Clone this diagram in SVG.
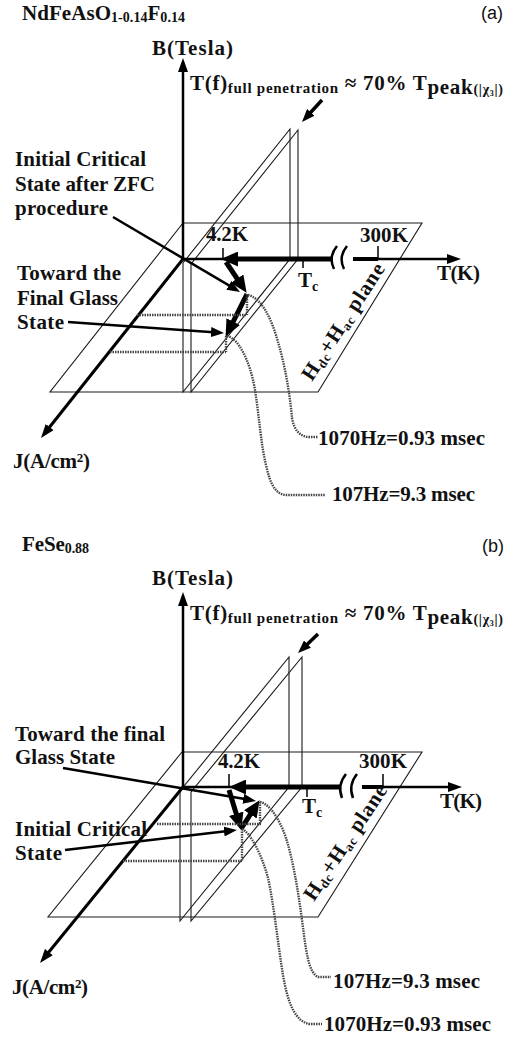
<svg xmlns="http://www.w3.org/2000/svg" width="507" height="1040" viewBox="0 0 507 1040">
<style>
text{font-family:"Liberation Serif","Times New Roman",serif;font-weight:bold;fill:#111;font-size:21px}
.sans{font-family:"Liberation Sans",Arial,sans-serif;font-weight:normal;font-size:18px}
.thin{fill:none;stroke:#1a1a1a;stroke-width:1.1}
.ax{fill:none;stroke:#000;stroke-width:2.5}
.jx{fill:none;stroke:#000;stroke-width:3}
.tk{fill:none;stroke:#000;stroke-width:1.5}
.fat{fill:none;stroke:#000;stroke-width:5}
.ptr{fill:none;stroke:#000;stroke-width:2.5}
.dot{fill:none;stroke:#444;stroke-width:2.4;stroke-dasharray:1.5 1}
.brk{fill:none;stroke:#000;stroke-width:2.5}
</style>
<defs>
<marker id="axh" viewBox="0 0 14 10" refX="8" refY="5" markerWidth="14" markerHeight="10" markerUnits="userSpaceOnUse" orient="auto"><path d="M0,0 L14,5 L0,10 z" fill="#000"/></marker>
<marker id="big" viewBox="0 0 17 15" refX="8" refY="7.5" markerWidth="17" markerHeight="15" markerUnits="userSpaceOnUse" orient="auto"><path d="M0,0 L17,7.5 L0,15 z" fill="#000"/></marker>
<marker id="sm" viewBox="0 0 13 10" refX="6" refY="5" markerWidth="13" markerHeight="10" markerUnits="userSpaceOnUse" orient="auto"><path d="M0,0 L13,5 L0,10 z" fill="#000"/></marker>
</defs>

<!-- ================= PANEL (a) ================= -->
<g id="panel-a-planes">
<polygon class="thin" points="183,223 422,223 318,392 50,392"/>
<polygon class="thin" points="290,129 290,259 183,392 183,263"/>
<polygon class="thin" points="298,130 298,259 191,392 191,264"/>
</g>
<g id="panel-a-connectors">
<line class="ax" x1="183" y1="259" x2="183" y2="64" marker-end="url(#axh)"/>
<line class="ax" x1="183" y1="259" x2="333" y2="259"/>
<line class="ax" x1="353" y1="259" x2="455" y2="259" marker-end="url(#axh)"/>
<line class="fat" x1="353" y1="259" x2="378" y2="259" style="stroke-width:4"/>
<path class="brk" d="M337,246 Q328,257 334,269"/>
<path class="brk" d="M347,246 Q338,257 344,269"/>
<line class="tk" x1="223" y1="248" x2="223" y2="259"/>
<line class="tk" x1="378" y1="246" x2="378" y2="259"/>
<line class="tk" x1="303" y1="259" x2="303" y2="268"/>
<line class="jx" x1="183" y1="259" x2="44.7" y2="433.3" marker-end="url(#axh)"/>
<line class="fat" x1="333" y1="259" x2="230" y2="259" marker-end="url(#big)"/>
<line class="fat" x1="226" y1="262" x2="241.6" y2="285.3" marker-end="url(#big)"/>
<line class="fat" x1="247" y1="294" x2="229.6" y2="328.8" marker-end="url(#big)"/>
<line class="ptr" x1="113" y1="217" x2="234" y2="288.4" marker-end="url(#sm)"/>
<line class="ptr" x1="68" y1="322" x2="217" y2="332.5" marker-end="url(#sm)"/>
<line class="ptr" x1="322" y1="100" x2="306.7" y2="116.8" marker-end="url(#sm)" style="stroke-width:3.5"/>
<line class="dot" x1="137" y1="315" x2="247" y2="315"/>
<line class="dot" x1="110" y1="352" x2="226" y2="352"/>
<line class="dot" x1="247" y1="294" x2="247" y2="315"/>
<line class="dot" x1="226" y1="336" x2="226" y2="352"/>
<path class="dot" d="M248,295 C262,298 272,320 278,342 C285,365 290,395 292,418 C294,430 300,437 310,437 L318,437"/>
<path class="dot" d="M227,336 C238,338 250,360 255,390 C259,415 261,445 266,465 C270,483 275,495 287,495 L325,495"/>
</g>
<g id="panel-a-title"><text x="22" y="20" font-size="20" textLength="163">NdFeAsO<tspan font-size="14" dy="2">1-0.14</tspan><tspan dy="-2">F</tspan><tspan font-size="14" dy="2">0.14</tspan></text></g>
<g id="panel-a-tag"><text class="sans" x="481" y="19">(a)</text></g>
<g id="a-B-label"><text x="152" y="55" textLength="81">B(Tesla)</text></g>
<g id="a-Tf-label"><text x="190" y="90" font-size="19" textLength="313">T(f)<tspan font-size="15" dy="3">full penetration</tspan><tspan dy="-3"> ≈ 70% T</tspan><tspan dy="4">peak</tspan><tspan font-size="14">(|χ</tspan><tspan font-size="8" dy="2">3</tspan><tspan font-size="14" dy="-2">|)</tspan></text></g>
<g id="a-initial-label">
<text x="15" y="166" textLength="131">Initial Critical</text>
<text x="15" y="191" textLength="140">State after ZFC</text>
<text x="15" y="215" textLength="93">procedure</text>
</g>
<g id="a-toward-label">
<text x="17" y="280" textLength="104">Toward the</text>
<text x="17" y="305" textLength="101">Final Glass</text>
<text x="17" y="329" textLength="47">State</text>
</g>
<g id="a-42K"><text x="206" y="241" font-size="20" textLength="42">4.2K</text></g>
<g id="a-300K"><text x="360" y="242" font-size="20" textLength="48">300K</text></g>
<g id="a-Tc"><text x="298" y="287" font-size="20">T<tspan font-size="14" dy="4">c</tspan></text></g>
<g id="a-TK"><text x="437" y="280" font-size="20" textLength="43">T(K)</text></g>
<g id="a-J"><text x="13" y="468" textLength="77">J(A/cm<tspan font-size="13" dy="-6">2</tspan><tspan dy="6">)</tspan></text></g>
<g id="a-plane-label"><text transform="translate(312,382) rotate(-57)" font-size="19" textLength="135">H<tspan font-size="13" dy="3">dc</tspan><tspan dy="-3">+H</tspan><tspan font-size="13" dy="3">ac</tspan><tspan dy="-3"> plane</tspan></text></g>
<g id="a-1070"><text x="318" y="445" font-size="20" textLength="167">1070Hz=0.93 msec</text></g>
<g id="a-107"><text x="332" y="501" font-size="20" textLength="143">107Hz=9.3 msec</text></g>

<!-- ================= PANEL (b) ================= -->
<g id="panel-b-planes">
<polygon class="thin" points="182,752 422,752 318,917 48,917"/>
<polygon class="thin" points="289,657 289,787 180,921 180,791"/>
<polygon class="thin" points="302,657 302,787 191,921 191,792"/>
</g>
<g id="panel-b-connectors">
<line class="ax" x1="183" y1="787" x2="183" y2="598" marker-end="url(#axh)"/>
<line class="ax" x1="183" y1="787" x2="340" y2="787"/>
<line class="ax" x1="362" y1="787" x2="456" y2="787" marker-end="url(#axh)"/>
<line class="fat" x1="362" y1="787" x2="383" y2="787" style="stroke-width:4"/>
<path class="brk" d="M346,774 Q337,785 342,798"/>
<path class="brk" d="M357,774 Q348,785 353,798"/>
<line class="tk" x1="229" y1="774" x2="229" y2="787"/>
<line class="tk" x1="383" y1="774" x2="383" y2="787"/>
<line class="tk" x1="307" y1="787" x2="307" y2="797"/>
<line class="jx" x1="183" y1="787" x2="43.8" y2="958.3" marker-end="url(#axh)"/>
<line class="fat" x1="340" y1="787" x2="238" y2="787" marker-end="url(#big)"/>
<line class="fat" x1="229" y1="790" x2="238.6" y2="821.4" marker-end="url(#big)"/>
<line class="fat" x1="241" y1="829" x2="254.7" y2="807.7" marker-end="url(#big)"/>
<line class="ptr" x1="63" y1="768" x2="249.1" y2="799.8" marker-end="url(#sm)"/>
<line class="ptr" x1="65" y1="850" x2="230" y2="830.8" marker-end="url(#sm)"/>
<line class="ptr" x1="318" y1="634" x2="303.1" y2="648.2" marker-end="url(#sm)" style="stroke-width:3.5"/>
<line class="dot" x1="157" y1="824" x2="262" y2="824"/>
<line class="dot" x1="123" y1="861" x2="242" y2="861"/>
<line class="dot" x1="242" y1="829" x2="242" y2="861"/>
<line class="dot" x1="260" y1="802" x2="260" y2="824"/>
<path class="dot" d="M260,802 C270,804 280,820 286,838 C293,860 298,890 302,920 C306,950 308,972 318,977 L331,977"/>
<path class="dot" d="M242,829 C250,832 262,855 268,878 C274,905 278,945 283,975 C288,1005 296,1022 310,1024 L322,1024"/>
</g>
<g id="panel-b-title"><text x="22" y="551" font-size="20" textLength="67">FeSe<tspan font-size="14" dy="2">0.88</tspan></text></g>
<g id="panel-b-tag"><text class="sans" x="482" y="552">(b)</text></g>
<g id="b-B-label"><text x="152" y="585" textLength="81">B(Tesla)</text></g>
<g id="b-Tf-label"><text x="190" y="620" font-size="19" textLength="313">T(f)<tspan font-size="15" dy="3">full penetration</tspan><tspan dy="-3"> ≈ 70% T</tspan><tspan dy="4">peak</tspan><tspan font-size="14">(|χ</tspan><tspan font-size="8" dy="2">3</tspan><tspan font-size="14" dy="-2">|)</tspan></text></g>
<g id="b-toward-label">
<text x="15" y="741" textLength="150">Toward the final</text>
<text x="15" y="764" textLength="100">Glass State</text>
</g>
<g id="b-initial-label">
<text x="15" y="836" textLength="132">Initial Critical</text>
<text x="15" y="860" textLength="47">State</text>
</g>
<g id="b-42K"><text x="218" y="768" font-size="20" textLength="42">4.2K</text></g>
<g id="b-300K"><text x="359" y="768" font-size="20" textLength="48">300K</text></g>
<g id="b-Tc"><text x="302" y="813" font-size="20">T<tspan font-size="14" dy="4">c</tspan></text></g>
<g id="b-TK"><text x="440" y="808" font-size="20" textLength="42">T(K)</text></g>
<g id="b-J"><text x="12" y="994" textLength="76">J(A/cm<tspan font-size="13" dy="-6">2</tspan><tspan dy="6">)</tspan></text></g>
<g id="b-plane-label"><text transform="translate(314,902) rotate(-56.5)" font-size="19" textLength="134">H<tspan font-size="13" dy="3">dc</tspan><tspan dy="-3">+H</tspan><tspan font-size="13" dy="3">ac</tspan><tspan dy="-3"> plane</tspan></text></g>
<g id="b-107"><text x="333" y="988" font-size="20" textLength="147">107Hz=9.3 msec</text></g>
<g id="b-1070"><text x="324" y="1031" font-size="20" textLength="167">1070Hz=0.93 msec</text></g>
</svg>
